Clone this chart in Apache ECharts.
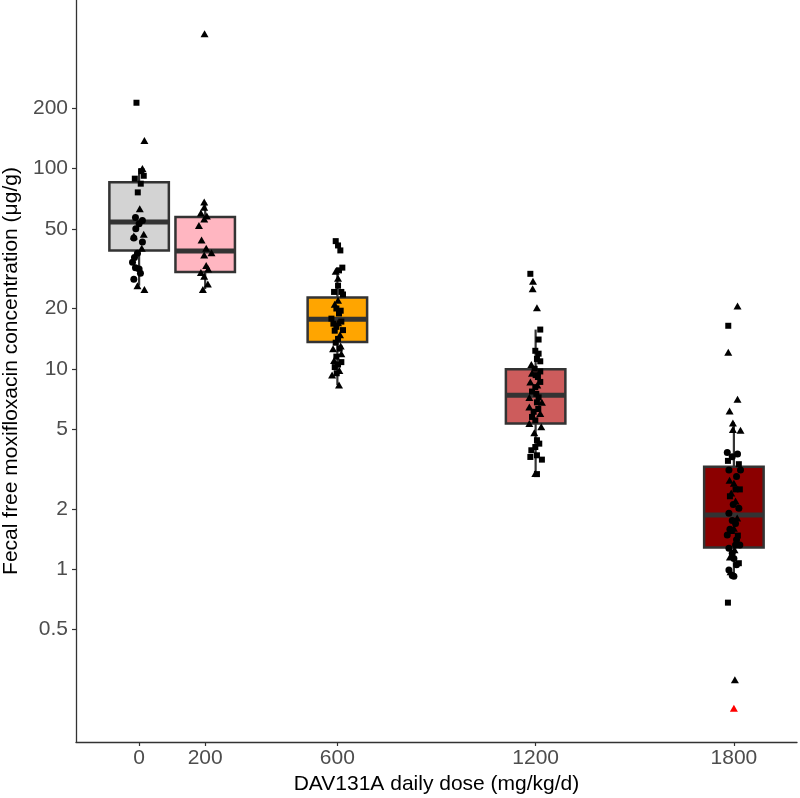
<!DOCTYPE html>
<html><head><meta charset="utf-8">
<script src="https://cdn.jsdelivr.net/npm/echarts@6/dist/echarts.min.js"></script>
<style>html,body{margin:0;padding:0;background:#fff}#c{width:800px;height:798px}</style>
</head><body><div id="c"></div><script>
const doses = [0, 200, 600, 1200, 1800];
const xTicks = [0, 200, 600, 1200, 1800];
const yTicks = [0.5, 1, 2, 5, 10, 20, 50, 100, 200];
const boxColors = ['#d3d3d3', '#ffb6c1', '#ffa500', '#cd5c5c', '#8b0000'];
// [lower whisker, Q1, median, Q3, upper whisker]
const boxStats = [
  [26, 39, 54, 85.5, 100],
  [25, 30.4, 38.7, 57.2, 68],
  [8.3, 13.6, 17.7, 22.7, 32],
  [2.9, 5.33, 7.38, 9.94, 15.7],
  [0.95, 1.28, 1.86, 3.24, 5.4]
];
// points per dose: [jitter (dose units), value, shape] c=circle t=triangle s=square r=red triangle
const pts0 = [
  [-8,213,'s'],[16,138,'t'],[10,100,'t'],[7,97,'s'],[14,92,'s'],[-13,89,'s'],[5,84,'s'],[-4,76,'s'],
  [2,63,'t'],[-11,57,'c'],[10,55,'c'],[0,53,'c'],[-10,50,'c'],[14,47,'t'],[-16,46,'t'],[-16,45,'c'],
  [10,43,'c'],[8,40,'t'],[-5,37.7,'c'],[-14,36,'c'],[-20,34,'c'],[-11,32,'c'],[0,31.5,'c'],[4,30,'c'],
  [-16,28,'c'],[-5,26,'t'],[16,24.9,'t']
];
const pts200 = [
  [-2,471,'t'],[-3,68,'t'],[-3,64,'t'],[-13,60,'t'],[5,58,'t'],[-3,56,'t'],[-19,52,'t'],[-11,44,'t'],
  [3,40,'t'],[19,38,'t'],[-3,37,'t'],[3,32.8,'t'],[9,31.5,'t'],[-13,30.3,'t'],[-3,29,'t'],[8,26.5,'t'],[-7,24.9,'t']
];
const pts600 = [
  [-5,43.4,'s'],[2,41.3,'s'],[9,39,'s'],[15,32,'s'],[5,31,'s'],[-5,30.7,'t'],[2,28.3,'t'],[2,26,'s'],
  [-10,24.2,'s'],[12,24.2,'s'],[17,23.5,'s'],[2,22,'t'],[-8,21,'t'],[-3,20,'s'],[10,19.5,'s'],[5,18.9,'s'],
  [-18,17.8,'s'],[12,17.2,'s'],[2,17,'t'],[-12,16.8,'s'],[-3,16.2,'s'],[17,15.6,'s'],[-8,15.5,'s'],
  [8,14.8,'t'],[2,14.1,'s'],[-5,13.5,'s'],[10,13,'t'],[-13,12.6,'t'],[7,12.6,'s'],[12,11.9,'t'],
  [-3,11.5,'s'],[-10,11,'t'],[12,10.8,'s'],[2,10.5,'s'],[-8,10.2,'s'],[6,9.8,'t'],[-2,9.5,'s'],
  [-16,9.3,'t'],[5,8.3,'t']
];
const pts1200 = [
  [-16,29.8,'s'],[-8,27.4,'t'],[-9,25.1,'t'],[4,20.2,'t'],[14,15.7,'s'],[9,14,'s'],[-1,12.3,'s'],
  [9,11.9,'s'],[4,11.2,'s'],[14,10.9,'s'],[-13,10.5,'t'],[-3,10,'s'],[14,9.7,'s'],[-11,9.5,'t'],
  [0,9.3,'s'],[7,9.1,'s'],[-16,8.6,'t'],[14,8.6,'s'],[5,8.3,'t'],[-1,8.1,'s'],[-11,7.7,'s'],[2,7.5,'s'],
  [9,7.2,'s'],[-19,7.2,'t'],[4,6.8,'s'],[19,6.8,'t'],[-19,6.45,'t'],[8,6.3,'s'],[-6,6.1,'s'],
  [14,5.98,'t'],[-11,5.75,'s'],[-1,5.53,'s'],[-19,5.33,'t'],[17,5.13,'t'],[-4,4.8,'t'],[4,4.4,'s'],
  [11,4.23,'s'],[-1,4.07,'s'],[-13,3.92,'s'],[4,3.7,'s'],[-16,3.63,'s'],[19,3.52,'s'],[-1,3.0,'t'],[4,2.98,'s']
];
const pts1800 = [
  [11,20.6,'t'],[-17,16.4,'s'],[-17,12.1,'t'],[11,7.05,'t'],[-13,6.16,'t'],[-3,5.37,'t'],[-3,4.98,'t'],
  [20,4.94,'t'],[-20,3.82,'c'],[11,3.75,'c'],[-5,3.64,'c'],[-18,3.47,'s'],[15,3.34,'s'],[20,3.12,'c'],
  [-15,3.12,'c'],[8,2.9,'c'],[-13,2.78,'t'],[0,2.68,'t'],[5,2.5,'s'],[18,2.5,'s'],[-8,2.4,'t'],
  [-12,2.31,'s'],[5,2.19,'t'],[-2,2.1,'c'],[15,2.01,'c'],[-15,1.9,'c'],[10,1.8,'t'],[-5,1.75,'c'],
  [5,1.69,'c'],[0,1.6,'t'],[-12,1.58,'c'],[-6,1.55,'s'],[-20,1.48,'c'],[12,1.47,'s'],[8,1.4,'c'],
  [5,1.32,'c'],[18,1.32,'c'],[-15,1.27,'c'],[2,1.25,'t'],[-5,1.2,'c'],[-12,1.15,'t'],[0,1.13,'c'],
  [15,1.07,'s'],[8,1.05,'c'],[-15,0.99,'c'],[-10,0.97,'t'],[-5,0.93,'c'],[0,0.92,'c'],[-18,0.68,'s'],
  [3,0.28,'t'],[0,0.202,'r']
];
const groupPoints = [pts0, pts200, pts600, pts1200, pts1800];

const TXT = '#4d4d4d';
const FONT = '"Liberation Sans", Arial, sans-serif';
const halfBox = 90;

const boxData = doses.map((d, i) => [d].concat(boxStats[i]).concat([i]));
function pointsOf(shape) {
  const out = [];
  groupPoints.forEach((arr, gi) => {
    arr.forEach(p => { if (p[2] === shape) out.push([doses[gi] + p[0], p[1]]); });
  });
  return out;
}

const chart = echarts.init(document.getElementById('c'), null, {renderer: 'canvas'});
chart.setOption({
  animation: false,
  backgroundColor: '#fff',
  grid: {left: 76, top: 0, width: 721, height: 742, containLabel: false, outerBoundsMode: 'none'},
  xAxis: {
    type: 'value', min: -191, max: 1991,
    name: 'DAV131A daily dose (mg/kg/d)', nameLocation: 'middle', nameGap: 23,
    nameTextStyle: {color: '#000', fontSize: 21, fontFamily: FONT},
    axisLine: {show: true, onZero: false, lineStyle: {color: '#333', width: 1.3}},
    axisTick: {show: true, length: 4, customValues: xTicks, lineStyle: {color: '#333', width: 1.2}},
    axisLabel: {customValues: xTicks, color: TXT, fontSize: 21, fontFamily: FONT, margin: 6,
      formatter: v => String(v)},
    splitLine: {show: false}
  },
  yAxis: {
    type: 'log', logBase: 10, min: 0.137, max: 694,
    name: 'Fecal free moxifloxacin concentration (\u03bcg/g)', nameLocation: 'middle', nameGap: 50,
    nameTextStyle: {color: '#000', fontSize: 21, fontFamily: FONT},
    axisLine: {show: true, onZero: false, lineStyle: {color: '#333', width: 1.3}},
    axisTick: {show: true, length: 4, customValues: yTicks, lineStyle: {color: '#333', width: 1.2}},
    axisLabel: {customValues: yTicks, color: TXT, fontSize: 21, fontFamily: FONT, margin: 8,
      formatter: v => String(Math.round(v * 1000) / 1000)},
    splitLine: {show: false}
  },
  series: [
    {
      type: 'custom', name: 'box', z: 1,
      data: boxData,
      encode: {x: 0, y: [1, 2, 3, 4, 5]},
      renderItem: function (params, api) {
        const x = api.value(0);
        const lo = api.value(1), q1 = api.value(2), med = api.value(3), q3 = api.value(4), hi = api.value(5);
        const ci = api.value(6);
        const pTL = api.coord([x - halfBox, q3]);
        const pBR = api.coord([x + halfBox, q1]);
        const pM = api.coord([x, med]);
        const pLo = api.coord([x, lo]);
        const pHi = api.coord([x, hi]);
        const ls = {stroke: '#333', lineWidth: 2.2};
        return {type: 'group', children: [
          {type: 'line', shape: {x1: pM[0], y1: pHi[1], x2: pM[0], y2: pTL[1]}, style: ls},
          {type: 'line', shape: {x1: pM[0], y1: pBR[1], x2: pM[0], y2: pLo[1]}, style: ls},
          {type: 'rect', shape: {x: pTL[0], y: pTL[1], width: pBR[0] - pTL[0], height: pBR[1] - pTL[1]},
            style: {fill: boxColors[ci], stroke: '#333', lineWidth: 2.5}},
          {type: 'line', shape: {x1: pTL[0], y1: pM[1], x2: pBR[0], y2: pM[1]}, style: {stroke: '#333', lineWidth: 5}}
        ]};
      }
    },
    {type: 'scatter', name: 'circle', z: 3, symbol: 'circle', symbolSize: 7,
      itemStyle: {color: '#000', opacity: 1}, data: pointsOf('c')},
    {type: 'scatter', name: 'triangle', z: 3, symbol: 'triangle', symbolSize: [8, 7],
      itemStyle: {color: '#000', opacity: 1}, data: pointsOf('t')},
    {type: 'scatter', name: 'square', z: 3, symbol: 'rect', symbolSize: 6,
      itemStyle: {color: '#000', opacity: 1}, data: pointsOf('s')},
    {type: 'scatter', name: 'red', z: 3, symbol: 'triangle', symbolSize: [8, 7],
      itemStyle: {color: '#ff0000', opacity: 1}, data: pointsOf('r')}
  ]
});
</script></body></html>
